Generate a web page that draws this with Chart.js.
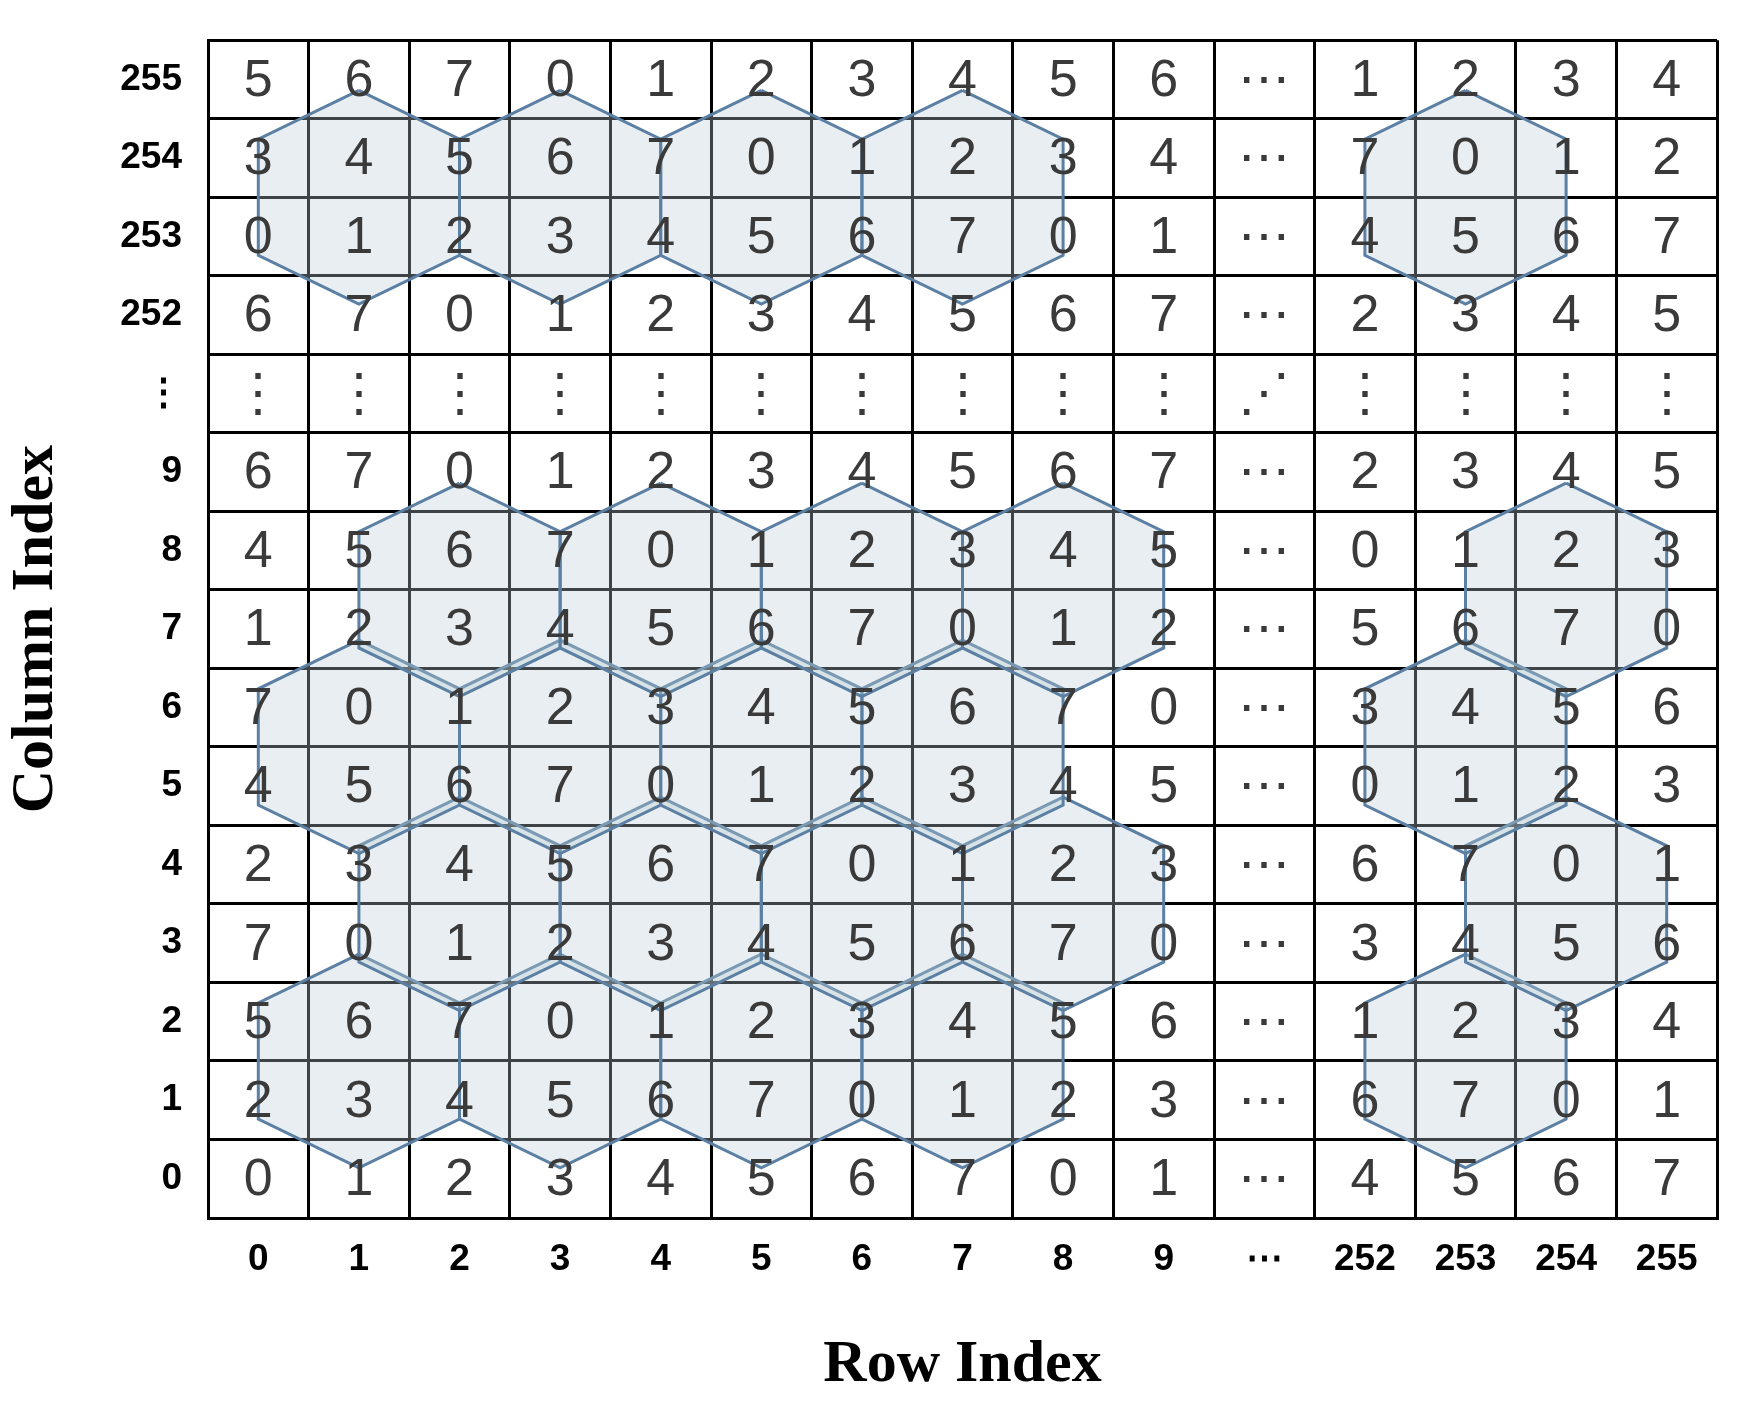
<!DOCTYPE html>
<html><head><meta charset="utf-8">
<script src="https://cdn.jsdelivr.net/npm/chart.js@4"></script>
<style>html,body{margin:0;padding:0;background:#fff}#w{width:1737px;height:1401px}</style>
</head><body><div id="w"><canvas id="c"></canvas></div>
<script>
const rowLabels = ['0','1','2','3','4','5','6','7','8','9','⋯','252','253','254','255'];
const colLabels = ['255','254','253','252','⋮','9','8','7','6','5','4','3','2','1','0']; // top to bottom
const cellRows = [ // top to bottom
 ['5','6','7','0','1','2','3','4','5','6','⋯','1','2','3','4'],
 ['3','4','5','6','7','0','1','2','3','4','⋯','7','0','1','2'],
 ['0','1','2','3','4','5','6','7','0','1','⋯','4','5','6','7'],
 ['6','7','0','1','2','3','4','5','6','7','⋯','2','3','4','5'],
 ['⋮','⋮','⋮','⋮','⋮','⋮','⋮','⋮','⋮','⋮','⋰','⋮','⋮','⋮','⋮'],
 ['6','7','0','1','2','3','4','5','6','7','⋯','2','3','4','5'],
 ['4','5','6','7','0','1','2','3','4','5','⋯','0','1','2','3'],
 ['1','2','3','4','5','6','7','0','1','2','⋯','5','6','7','0'],
 ['7','0','1','2','3','4','5','6','7','0','⋯','3','4','5','6'],
 ['4','5','6','7','0','1','2','3','4','5','⋯','0','1','2','3'],
 ['2','3','4','5','6','7','0','1','2','3','⋯','6','7','0','1'],
 ['7','0','1','2','3','4','5','6','7','0','⋯','3','4','5','6'],
 ['5','6','7','0','1','2','3','4','5','6','⋯','1','2','3','4'],
 ['2','3','4','5','6','7','0','1','2','3','⋯','6','7','0','1'],
 ['0','1','2','3','4','5','6','7','0','1','⋯','4','5','6','7']
];
// hexagon centers in grid positions (x: column position, y: row position from bottom)
const hexCenterX = [1,3,5,7,12, 2,4,6,8,13, 1,3,5,7,12, 2,4,6,8,13, 1,3,5,7,12];
const hexCenterY = [12.5,12.5,12.5,12.5,12.5, 7.5,7.5,7.5,7.5,7.5, 5.5,5.5,5.5,5.5,5.5, 3.5,3.5,3.5,3.5,3.5, 1.5,1.5,1.5,1.5,1.5];

const HW = 1, HS = 0.74, HA = 1.36;
const datasets = hexCenterX.map((cx,i)=>{
  const cy = hexCenterY[i];
  return {
    type:'line',
    data:[{x:cx,y:cy+HA},{x:cx+HW,y:cy+HS},{x:cx+HW,y:cy-HS},{x:cx,y:cy-HA},{x:cx-HW,y:cy-HS},{x:cx-HW,y:cy+HS},{x:cx,y:cy+HA}],
    borderColor:'#5b80a3', borderWidth:3, backgroundColor:'rgba(185,202,214,0.33)',
    fill:'shape', pointRadius:0, tension:0, xAxisID:'x', yAxisID:'y'
  };
});

const gridTicks = Array.from({length:16},(_,i)=>({value:i-0.5}));

const cellText = {
  id:'cellText',
  afterDatasetsDraw(chart){
    const {ctx, scales:{x,y}} = chart;
    ctx.save();
    ctx.fillStyle = '#3a3a3a';
    ctx.font = '52px "Liberation Sans", sans-serif';
    ctx.textAlign = 'center'; ctx.textBaseline = 'middle';
    cellRows.forEach((row,ri)=>{
      const yv = 14 - ri;
      row.forEach((v,ci)=>{
        ctx.fillText(v, x.getPixelForValue(ci), y.getPixelForValue(yv)+2);
      });
    });
    ctx.restore();
  }
};

new Chart(document.getElementById('c'),{
  data:{datasets},
  options:{
    responsive:true, maintainAspectRatio:false, animation:false,
    layout:{padding:{top:37,right:20,left:0,bottom:0}},
    plugins:{legend:{display:false},tooltip:{enabled:false}},
    scales:{
      x:{type:'linear',min:-0.5,max:14.5,position:'bottom',
         afterBuildTicks:s=>{s.ticks=gridTicks.map(t=>({...t}));},
         ticks:{display:false}, grid:{color:'#000',lineWidth:3,drawTicks:false},
         border:{color:'#000',width:3}, afterFit:s=>{s.height=0;}},
      y:{type:'linear',min:-0.5,max:14.5,position:'left',
         afterBuildTicks:s=>{s.ticks=gridTicks.map(t=>({...t}));},
         ticks:{display:false}, grid:{color:'#000',lineWidth:3,drawTicks:false},
         border:{color:'#000',width:3}, afterFit:s=>{s.width=0;}},
      xl:{type:'category',labels:rowLabels,offset:true,position:'bottom',
         grid:{display:false},border:{display:false},
         ticks:{color:'#000',font:{family:'"Liberation Sans", Arial, sans-serif',size:37,weight:'bold'},padding:12,maxRotation:0,autoSkip:false},
         title:{display:true,text:'Row Index',color:'#000',font:{family:'"Liberation Serif", serif',size:60,weight:'bold'},padding:{top:30,bottom:0}},
         afterFit:s=>{s.height=183;}},
      yl:{type:'category',labels:colLabels,offset:true,position:'left',
         grid:{display:false},border:{display:false},
         ticks:{color:'#000',font:{family:'"Liberation Sans", Arial, sans-serif',size:37,weight:'bold'},padding:18,autoSkip:false},
         title:{display:true,text:'Column Index',color:'#000',font:{family:'"Liberation Serif", serif',size:60,weight:'bold'},padding:{top:0,bottom:25}},
         afterFit:s=>{s.width=208;}}
    }
  },
  plugins:[cellText]
});
</script></body></html>
